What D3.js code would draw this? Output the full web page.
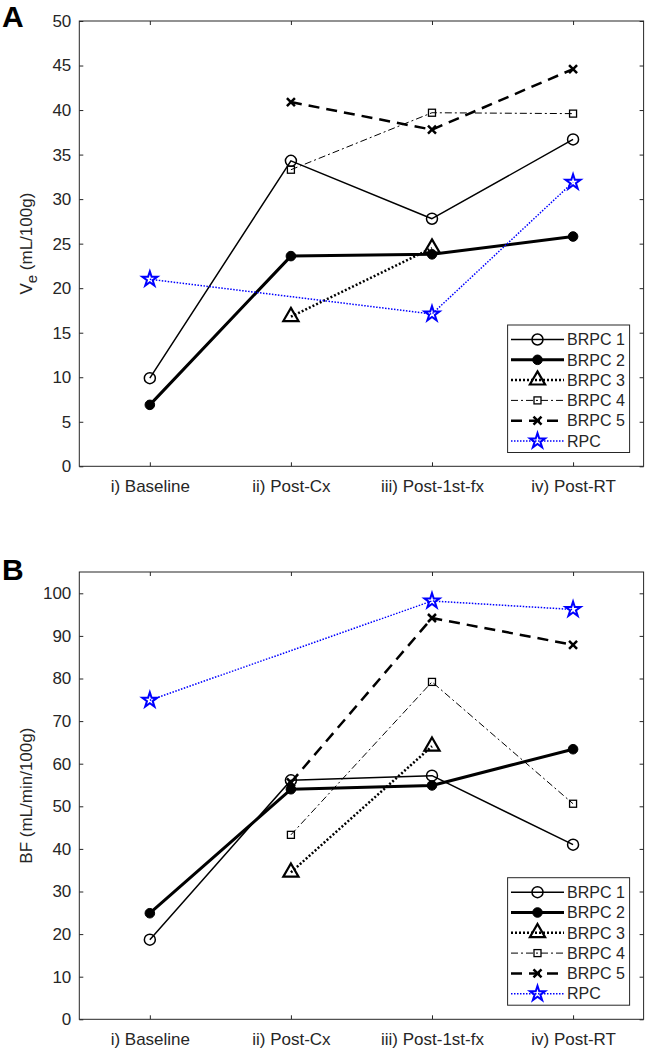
<!DOCTYPE html>
<html><head><meta charset="utf-8">
<script src="https://cdn.jsdelivr.net/npm/d3@7"></script>
<style>
html,body{margin:0;padding:0;background:#fff;}
svg{display:block;font-family:"Liberation Sans",Arial,sans-serif;}
</style></head>
<body>
<svg id="chart" width="646" height="1051"></svg>
<script>
// ---- data ----
const categories = ["i) Baseline", "ii) Post-Cx", "iii) Post-1st-fx", "iv) Post-RT"];
const seriesNames = ["BRPC 1", "BRPC 2", "BRPC 3", "BRPC 4", "BRPC 5", "RPC"];
// Panel A: Ve (mL/100g); null = missing
const veBRPC1 = [9.9, 34.3, 27.8, 36.7];
const veBRPC2 = [6.9, 23.6, 23.8, 25.8];
const veBRPC3 = [null, 16.8, 24.5, null];
const veBRPC4 = [null, 33.3, 39.7, 39.6];
const veBRPC5 = [null, 40.9, 37.8, 44.6];
const veRPC   = [21.0, null, 17.1, 31.9];
// Panel B: BF (mL/min/100g)
const bfBRPC1 = [18.7, 56.1, 57.2, 41.0];
const bfBRPC2 = [24.9, 54.0, 54.9, 63.4];
const bfBRPC3 = [null, 34.5, 64.1, null];
const bfBRPC4 = [null, 43.3, 79.2, 50.6];
const bfBRPC5 = [null, 55.6, 94.2, 87.9];
const bfRPC   = [74.9, null, 98.2, 96.2];
const yTicksA = [0, 5, 10, 15, 20, 25, 30, 35, 40, 45, 50];
const yTicksB = [0, 10, 20, 30, 40, 50, 60, 70, 80, 90, 100];

// ---- styles ----
const styles = [
  {color:"#000", width:1.5, dash:null, marker:"circle"},
  {color:"#000", width:3, dash:null, marker:"dot"},
  {color:"#000", width:2.5, dash:"2,2", marker:"triangle"},
  {color:"#000", width:1, dash:"7,3,2,3", marker:"square"},
  {color:"#000", width:2.5, dash:"11,7", marker:"x"},
  {color:"#0000ff", width:1.5, dash:"1.5,1.5", marker:"star"}
];

const svg = d3.select("#chart");
const axisColor = "#262626";
const fontSize = 17;

function drawMarker(g, type, cx, cy, color) {
  const t = `translate(${cx},${cy})`;
  if (type === "circle") {
    g.append("circle").attr("cx", cx).attr("cy", cy).attr("r", 5.5)
      .attr("fill", "none").attr("stroke", color).attr("stroke-width", 1.5);
  } else if (type === "dot") {
    g.append("circle").attr("cx", cx).attr("cy", cy).attr("r", 4.8)
      .attr("fill", color).attr("stroke", color).attr("stroke-width", 1);
  } else if (type === "triangle") {
    g.append("path").attr("d", d3.symbol(d3.symbolTriangle, 100)()).attr("transform", t)
      .attr("fill", "none").attr("stroke", color).attr("stroke-width", 2.2);
  } else if (type === "square") {
    g.append("rect").attr("x", cx - 3.5).attr("y", cy - 3.5).attr("width", 7).attr("height", 7)
      .attr("fill", "none").attr("stroke", color).attr("stroke-width", 1.3);
  } else if (type === "x") {
    g.append("path").attr("d", "M-4,-4L4,4M-4,4L4,-4").attr("transform", t)
      .attr("fill", "none").attr("stroke", color).attr("stroke-width", 2.5);
  } else if (type === "star") {
    g.append("path").attr("d", d3.symbol(d3.symbolStar, 70)()).attr("transform", t)
      .attr("fill", "none").attr("stroke", color).attr("stroke-width", 2);
  }
}

function panel(opts) {
  const {top, bottom, yMax, ticks, data, label, labelY, yLabel, legendTop} = opts;
  const left = 79.3, right = 643.6;
  const x = d3.scaleLinear().domain([0.5, 4.5]).range([left, right]);
  const y = d3.scaleLinear().domain([0, yMax]).range([bottom, top]);
  const g = svg.append("g");

  // box
  g.append("rect").attr("x", left).attr("y", top).attr("width", right - left).attr("height", bottom - top)
    .attr("fill", "none").attr("stroke", axisColor).attr("stroke-width", 1);

  // axes via d3
  const yAxisL = d3.axisLeft(y).tickValues(ticks).tickSize(-4).tickPadding(8).tickFormat(d3.format("d"));
  const yAxisR = d3.axisRight(y).tickValues(ticks).tickSize(-4).tickFormat("");
  const xAxisB = d3.axisBottom(x).tickValues([1,2,3,4]).tickSize(-4).tickPadding(14).tickFormat(d => categories[d-1]);
  const xAxisT = d3.axisTop(x).tickValues([1,2,3,4]).tickSize(-4).tickFormat("");
  const styleAxis = sel => {
    sel.select(".domain").remove();
    sel.selectAll("line").attr("stroke", axisColor);
    sel.selectAll("text").attr("fill", axisColor).style("font-size", fontSize + "px")
      .style("font-family", '"Liberation Sans", Arial, sans-serif');
  };
  g.append("g").attr("transform", `translate(${left},0)`).call(yAxisL).call(styleAxis);
  g.append("g").attr("transform", `translate(${right},0)`).call(yAxisR).call(styleAxis);
  g.append("g").attr("transform", `translate(0,${bottom})`).call(xAxisB).call(styleAxis);
  g.append("g").attr("transform", `translate(0,${top})`).call(xAxisT).call(styleAxis);

  // series
  data.forEach((vals, i) => {
    const s = styles[i];
    const pts = vals.map((v, j) => ({x: j + 1, v})).filter(p => p.v !== null);
    const line = d3.line().x(p => x(p.x)).y(p => y(p.v));
    g.append("path").attr("d", line(pts)).attr("fill", "none")
      .attr("stroke", s.color).attr("stroke-width", s.width)
      .attr("stroke-dasharray", s.dash).attr("stroke-linejoin", "round");
    pts.forEach(p => drawMarker(g, s.marker, x(p.x), y(p.v), s.color));
  });

  // panel label
  svg.append("text").attr("x", 2).attr("y", labelY).text(label)
    .attr("font-weight", "bold").attr("font-size", 30).attr("fill", "#000");

  // y label
  const yl = svg.append("text")
    .attr("transform", `translate(32,${(top + bottom) / 2}) rotate(-90)`)
    .attr("text-anchor", "middle").attr("font-size", fontSize).attr("fill", axisColor);
  yLabel(yl);

  // legend
  const lx0 = 507.6, lx1 = 629.6, lh = 127.5;
  const lg = svg.append("g");
  lg.append("rect").attr("x", lx0).attr("y", legendTop).attr("width", lx1 - lx0).attr("height", lh)
    .attr("fill", "#fff").attr("stroke", axisColor).attr("stroke-width", 1);
  seriesNames.forEach((name, i) => {
    const s = styles[i];
    const ry = legendTop + 14.5 + i * 20.3;
    lg.append("line").attr("x1", 511).attr("x2", 564).attr("y1", ry).attr("y2", ry)
      .attr("stroke", s.color).attr("stroke-width", s.width).attr("stroke-dasharray", s.dash);
    drawMarker(lg, s.marker, 537.5, ry, s.color);
    lg.append("text").attr("x", 567).attr("y", ry).attr("dy", "0.36em").text(name)
      .attr("font-size", 16).attr("fill", axisColor);
  });
}

panel({
  top: 21, bottom: 466.3, yMax: 50, ticks: yTicksA,
  data: [veBRPC1, veBRPC2, veBRPC3, veBRPC4, veBRPC5, veRPC],
  label: "A", labelY: 27, legendTop: 325,
  yLabel: t => {
    t.append("tspan").text("V");
    t.append("tspan").text("e").attr("dy", "0.35em").attr("font-size", 15);
    t.append("tspan").text(" (mL/100g)").attr("dy", "-0.3em");
  }
});
panel({
  top: 572, bottom: 1019.3, yMax: 105, ticks: yTicksB,
  data: [bfBRPC1, bfBRPC2, bfBRPC3, bfBRPC4, bfBRPC5, bfRPC],
  label: "B", labelY: 580, legendTop: 877.7,
  yLabel: t => t.text("BF (mL/min/100g)")
});
</script>
</body></html>
